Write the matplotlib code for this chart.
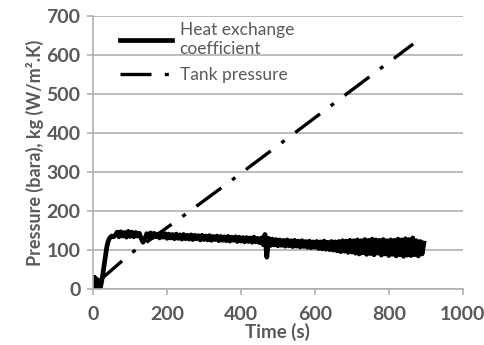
import matplotlib
matplotlib.use("Agg")
import matplotlib.pyplot as plt

# Heat exchange coefficient (noisy measured trace)
hx_time_start = [2, 4, 6, 8, 10, 12, 14, 16, 18, 20, 22, 25, 28, 31, 34, 37, 40, 43, 46, 50, 55]
hx_value_start = [30, 5, 28, 8, 25, 3, 20, 2, 10, 5, 15, 30, 50, 72, 92, 108, 120, 128, 132, 136, 134]
hx_time_rest = list(range(60, 900, 5))
hx_value_rest = [
    138, 146, 134, 147, 136, 145, 133, 148, 135, 146,
    134, 145, 136, 143, 130, 120, 128, 142, 133, 144,
    132, 143, 134, 141, 131, 144, 133, 142, 130, 141,
    131, 140, 129, 141, 130, 139, 128, 140, 129, 138,
    128, 139, 127, 138, 129, 137, 126, 138, 127, 136,
    126, 137, 125, 135, 127, 136, 124, 135, 125, 134,
    124, 135, 123, 133, 125, 134, 122, 133, 123, 132,
    121, 132, 122, 131, 120, 133, 121, 130, 119, 131,
    114, 140, 82, 130, 112, 128, 113, 127, 111, 126,
    112, 125, 110, 126, 111, 124, 109, 125, 110, 123,
    108, 124, 109, 122, 107, 123, 106, 121, 107, 122,
    104, 121, 103, 123, 102, 120, 101, 122, 100, 121,
    98, 122, 96, 124, 97, 123, 94, 125, 95, 124,
    92, 126, 90, 124, 93, 127, 89, 125, 91, 128,
    88, 126, 92, 125, 87, 127, 90, 124, 86, 126,
    89, 125, 85, 128, 88, 126, 84, 129, 87, 127,
    86, 131, 88, 124, 85, 122, 90, 118,
]
hx_time = hx_time_start + hx_time_rest
hx_value = hx_value_start + hx_value_rest

# Tank pressure
tank_time = [15, 100, 236, 368, 866]
tank_value = [20, 90, 182, 274, 628]

x_ticks = [0, 200, 400, 600, 800, 1000]
y_ticks = [0, 100, 200, 300, 400, 500, 600, 700]

plt.rcParams['font.family'] = ['Lato', 'DejaVu Sans']
gray_txt = '#595959'
gray_ax = '#b0b0b0'

fig = plt.figure(figsize=(4.85, 3.45), dpi=100)
ax = fig.add_axes([0.192, 0.162, 0.762, 0.792])

ax.plot(hx_time, hx_value, color='black', lw=3.4, solid_joinstyle='round',
        label='Heat exchange\ncoefficient')
ax.plot(tank_time, tank_value, color='black', lw=2.4, dash_capstyle='butt',
        dashes=(9.3, 4, 1.2, 4), label='Tank pressure')

ax.set_xlim(0, 1000)
ax.set_ylim(0, 700)
ax.set_xticks(x_ticks)
ax.set_yticks(y_ticks)
ax.yaxis.grid(True, color=gray_ax, lw=1.2)
ax.set_axisbelow(True)
for s in ['top', 'right']:
    ax.spines[s].set_visible(False)
for s in ['left', 'bottom']:
    ax.spines[s].set_color(gray_ax)
    ax.spines[s].set_linewidth(1.2)
ax.tick_params(axis='both', colors=gray_ax, length=4, width=1.2)
ax.tick_params(axis='x', pad=8)
ax.tick_params(axis='y', pad=5)
for lab in ax.get_xticklabels() + ax.get_yticklabels():
    lab.set_color(gray_txt)
    lab.set_fontsize(14)
    lab.set_fontweight('bold')

ax.set_xlabel('Time (s)', color=gray_txt, fontsize=13.5, fontweight='bold', va='top')
ax.xaxis.set_label_coords(0.5, -0.125)
ax.set_ylabel('Pressure (bara), kg (W/m².K)', color=gray_txt, fontsize=13,
              fontweight='bold', labelpad=2)

leg = ax.legend(loc='upper left', bbox_to_anchor=(0.03, 1.035), frameon=False,
                prop={'size': 12.5}, handlelength=3.0,
                handletextpad=0.45, labelspacing=0.55, labelcolor=gray_txt)
for t in leg.get_texts():
    t.set_linespacing(1.25)

fig.savefig('out.png', dpi=100)
